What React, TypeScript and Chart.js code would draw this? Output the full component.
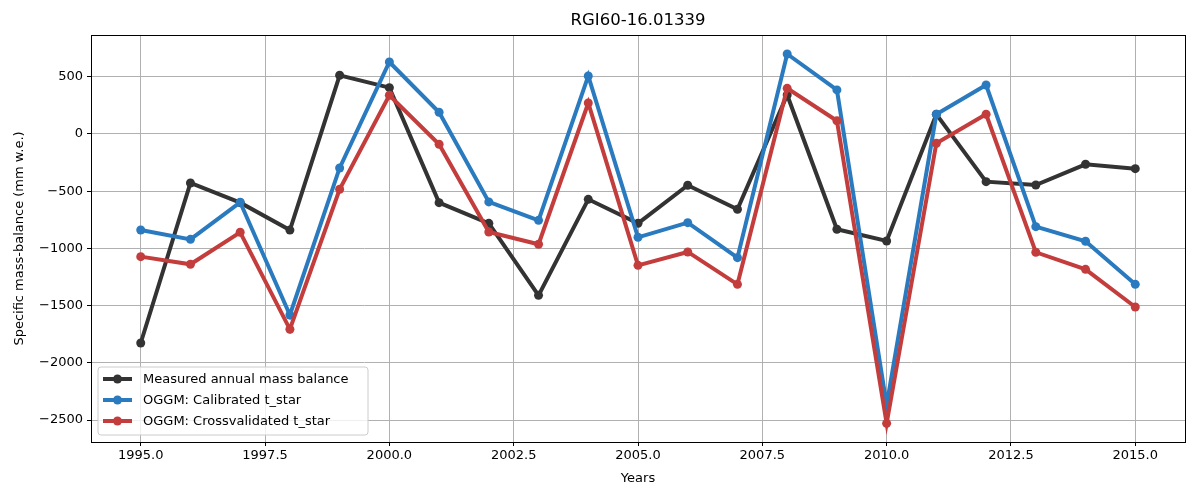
import React, { useEffect, useRef } from "react";
import { Chart, registerables } from "chart.js";

Chart.register(...registerables);

const years = [1995, 1996, 1997, 1998, 1999, 2000, 2001, 2002, 2003, 2004, 2005, 2006, 2007, 2008, 2009, 2010, 2011, 2012, 2013, 2014, 2015];
const measured = [-1827, -428, -600, -840, 513, 405, -600, -781, -1410, -571, -781, -448, -658, 341, -833, -935, 172, -417, -446, -265, -303];
const calibrated = [-839, -921, -597, -1582, -297, 629, 190, -594, -755, 507, -903, -775, -1081, 699, 385, -2370, 172, 428, -810, -938, -1314];
const crossvalidated = [-1072, -1139, -859, -1707, -483, 338, -90, -857, -964, 271, -1148, -1031, -1314, 399, 116, -2529, -81, 172, -1034, -1183, -1512];
const xTicks = [1995, 1997.5, 2000, 2002.5, 2005, 2007.5, 2010, 2012.5, 2015];
const yTicks = [-2500, -2000, -1500, -1000, -500, 0, 500];

const titleText = "RGI60-16.01339";
const seriesNames = ["Measured annual mass balance", "OGGM: Calibrated t_star", "OGGM: Crossvalidated t_star"];
const seriesColors = ["#333333", "#2a7abf", "#c43d3d"];

const FONT = "'DejaVu Sans', sans-serif";

export default function App() {
  const ref = useRef<HTMLCanvasElement | null>(null);

  useEffect(() => {
    if (!ref.current) return;
    const seriesData = [measured, calibrated, crossvalidated];

    const frame = {
      id: "frame",
      afterDatasetsDraw(chart: any) {
        const { ctx, chartArea: a } = chart;
        ctx.save();
        // title
        ctx.font = `16.5px ${FONT}`;
        ctx.fillStyle = "#000000";
        ctx.textAlign = "center";
        ctx.textBaseline = "middle";
        ctx.fillText(titleText, (a.left + a.right) / 2, 21);
        // legend
        const lx = 98, ly = 367, lw = 270, lh = 68, r = 3;
        ctx.beginPath();
        ctx.moveTo(lx + r, ly);
        ctx.arcTo(lx + lw, ly, lx + lw, ly + lh, r);
        ctx.arcTo(lx + lw, ly + lh, lx, ly + lh, r);
        ctx.arcTo(lx, ly + lh, lx, ly, r);
        ctx.arcTo(lx, ly, lx + lw, ly, r);
        ctx.closePath();
        ctx.fillStyle = "rgba(255,255,255,0.8)";
        ctx.fill();
        ctx.strokeStyle = "#cccccc";
        ctx.lineWidth = 1;
        ctx.stroke();
        ctx.font = `13px ${FONT}`;
        ctx.textBaseline = "middle";
        ctx.textAlign = "left";
        const rows = [379, 400, 421];
        for (let i = 0; i < 3; i++) {
          ctx.strokeStyle = seriesColors[i];
          ctx.lineWidth = 4;
          ctx.beginPath();
          ctx.moveTo(103, rows[i]);
          ctx.lineTo(132, rows[i]);
          ctx.stroke();
          ctx.fillStyle = seriesColors[i];
          ctx.beginPath();
          ctx.arc(117.5, rows[i], 4.5, 0, Math.PI * 2);
          ctx.fill();
          ctx.fillStyle = "#000000";
          ctx.fillText(seriesNames[i], 143, rows[i] + 0.5);
        }
        // frame
        ctx.strokeStyle = "#000000";
        ctx.lineWidth = 1;
        ctx.strokeRect(Math.round(a.left) + 0.5, Math.round(a.top) + 0.5, Math.round(a.right - a.left), Math.round(a.bottom - a.top));
        ctx.restore();
      },
    };

    const chart = new Chart(ref.current, {
      type: "line",
      data: {
        datasets: seriesData.map((d, i) => ({
          label: seriesNames[i],
          data: d.map((v, j) => ({ x: years[j], y: v })),
          borderColor: seriesColors[i],
          backgroundColor: seriesColors[i],
          borderWidth: 4,
          pointRadius: 4.5,
          pointBorderWidth: 0,
          pointHoverRadius: 4.5,
          tension: 0,
          order: 3 - i,
        })),
      },
      options: {
        animation: false,
        responsive: false,
        events: [],
        layout: { padding: { top: 35, right: 15, left: 0, bottom: 0 } },
        plugins: {
          legend: { display: false },
          tooltip: { enabled: false },
          title: { display: false },
        },
        scales: {
          x: {
            type: "linear",
            min: 1994,
            max: 2016,
            afterBuildTicks: (s: any) => {
              s.ticks = xTicks.map((v) => ({ value: v }));
            },
            afterFit: (s: any) => {
              s.height = 58;
            },
            ticks: {
              color: "#000000",
              font: { family: FONT, size: 13 },
              padding: 2,
              maxRotation: 0,
              autoSkip: false,
              callback: (v: any) => Number(v).toFixed(1),
            },
            grid: { color: "#b0b0b0", lineWidth: 1, tickColor: "#000000", tickLength: 4, drawTicks: true },
            border: { display: false },
            title: {
              display: true,
              text: "Years",
              color: "#000000",
              font: { family: FONT, size: 13 },
              padding: { top: 0, bottom: 14 },
            },
          },
          y: {
            type: "linear",
            min: -2692,
            max: 865,
            afterBuildTicks: (s: any) => {
              s.ticks = yTicks.map((v) => ({ value: v }));
            },
            afterFit: (s: any) => {
              s.width = 91;
            },
            ticks: {
              color: "#000000",
              font: { family: FONT, size: 13 },
              padding: 4,
              callback: (v: any) => String(v).replace("-", "\u2212"),
            },
            grid: { color: "#b0b0b0", lineWidth: 1, tickColor: "#000000", tickLength: 4, drawTicks: true },
            border: { display: false },
            title: {
              display: true,
              text: "Specific mass-balance (mm w.e.)",
              color: "#000000",
              font: { family: FONT, size: 13 },
              padding: { top: 12, bottom: 0 },
            },
          },
        },
      },
      plugins: [frame],
    } as any);
    return () => chart.destroy();
  }, []);

  return (
    <div style={{ position: "fixed", left: 0, top: 0, width: 1200, height: 500, background: "#ffffff" }}>
      <canvas ref={ref} width={1200} height={500} style={{ width: 1200, height: 500, display: "block" }} />
    </div>
  );
}
